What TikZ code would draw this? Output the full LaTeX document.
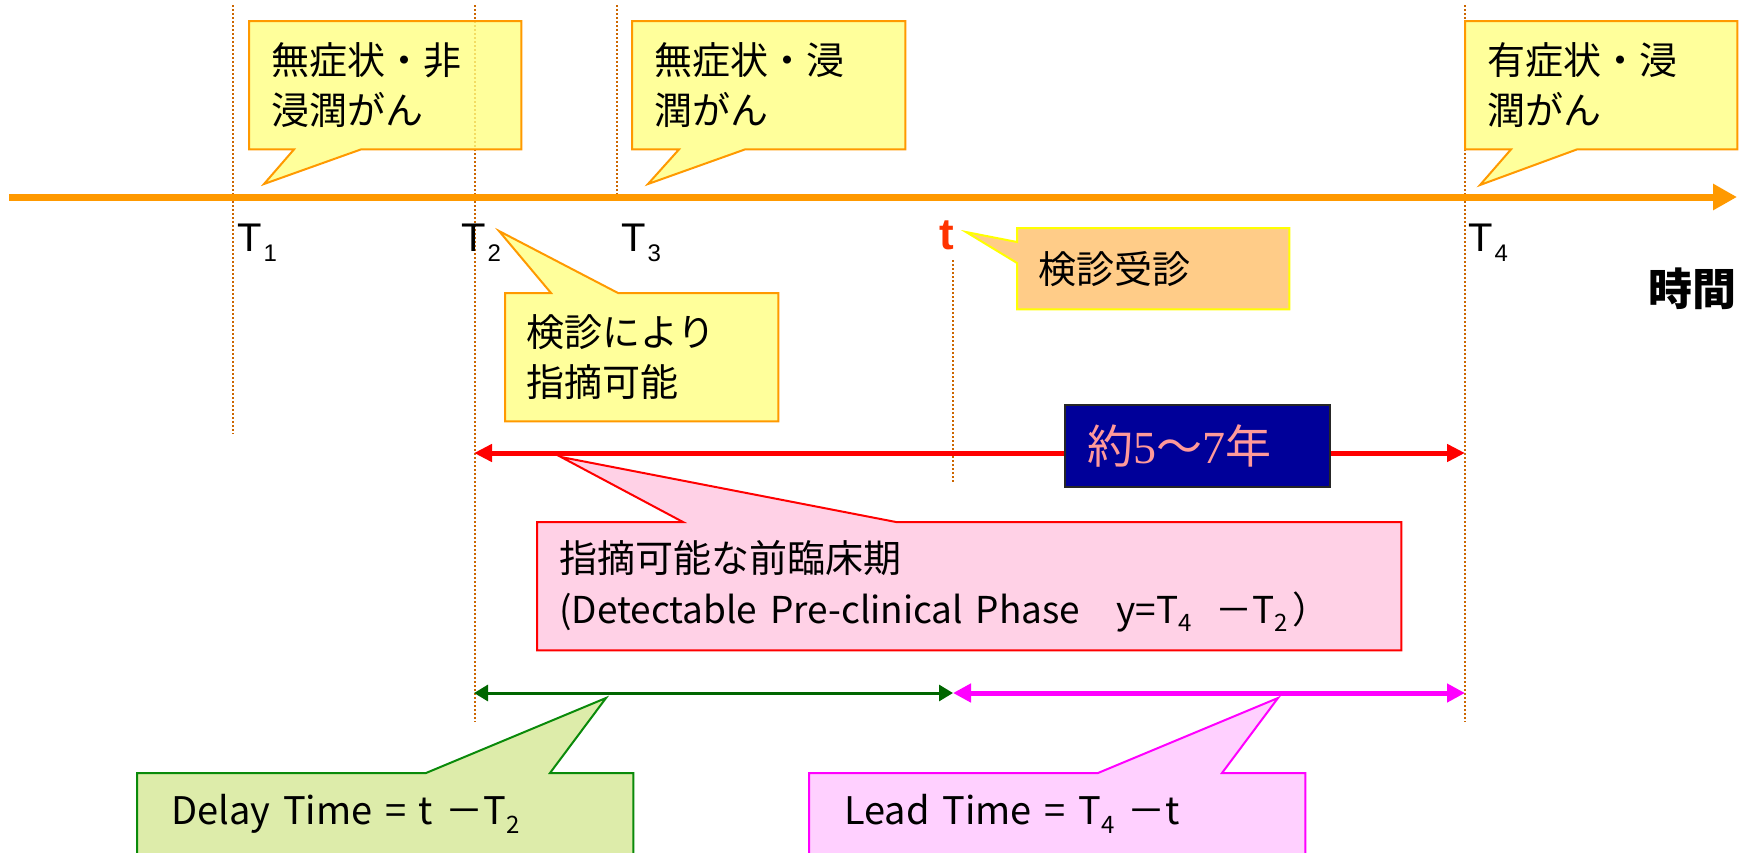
\documentclass[tikz,border=0pt]{standalone}
\usepackage{fontspec}
\setmainfont{Liberation Sans}
\newfontfamily\jp{Noto Sans CJK JP}
\newfontfamily\serifn{Liberation Serif}
\usetikzlibrary{arrows.meta,calc}
\definecolor{cyel}{HTML}{FFFF80}
\definecolor{corg}{HTML}{FF9900}
\definecolor{cdot}{HTML}{CC6600}
\definecolor{ckfill}{HTML}{FFCC88}
\definecolor{ckline}{HTML}{FFFF00}
\definecolor{cpink}{HTML}{FFD1E6}
\definecolor{cred}{HTML}{FF0000}
\definecolor{cnavy}{HTML}{000099}
\definecolor{csalmon}{HTML}{FF9999}
\definecolor{cgfill}{HTML}{DDECAA}
\definecolor{cgline}{HTML}{0A8A0A}
\definecolor{cgarrow}{HTML}{006600}
\definecolor{cmfill}{HTML}{FFD0FF}
\definecolor{cmag}{HTML}{FF00FF}
\definecolor{ct}{HTML}{FF3300}
\pgfdeclarelayer{bottom}
\pgfdeclarelayer{back}
\pgfsetlayers{bottom,back,main}
\tikzset{
  txtbox/.style={anchor=north west, inner xsep=22pt, inner ysep=0pt, align=left,
    font=\jp\fontsize{38}{50}\selectfont},
  yelshape/.style={draw=corg, line width=2pt, fill=cyel, fill opacity=0.78},
  dotline/.style={draw=cdot, line width=1.6pt, dash pattern=on 1.6pt off 2.4pt},
  tlabel/.style={anchor=base west, inner sep=0pt, font=\fontsize{40}{40}\selectfont},
  latinbox/.style={anchor=north west, inner ysep=0pt, align=left,
    font=\jp\fontsize{38}{46}\selectfont}
}
\newcommand{\sbs}[2][-10pt]{\raisebox{#1}{\fontsize{24}{24}\selectfont #2}}
\begin{document}
\begin{tikzpicture}[x=1pt,y=-1pt]
\useasboundingbox (0,0) rectangle (1753,852);
\begin{pgfonlayer}{bottom}
\fill[white] (0,0) rectangle (1753,852);
\end{pgfonlayer}

% vertical dotted markers
\coordinate (d1a) at (233,5);   \coordinate (d1b) at (233,434);
\coordinate (d2a) at (475,5);   \coordinate (d2b) at (475,722);
\coordinate (d3a) at (617,5);   \coordinate (d3b) at (617,197);
\coordinate (dta) at (953,260); \coordinate (dtb) at (953,483);
\coordinate (d4a) at (1465,5);  \coordinate (d4b) at (1465,722);
\begin{pgfonlayer}{bottom}
\draw[dotline] (d1a) -- (d1b);
\draw[dotline] (d2a) -- (d2b);
\draw[dotline] (d3a) -- (d3b);
\draw[dotline] (dta) -- (dtb);
\draw[dotline] (d4a) -- (d4b);
\end{pgfonlayer}

% time axis
\coordinate (ax0) at (9,197);
\coordinate (ax1) at (1737,197);
\draw[corg, line width=7pt, -{Triangle[length=24pt,width=25pt]}] (ax0) -- (ax1);

% pointer tips
\coordinate (p1) at (264,184);
\coordinate (p2) at (648,184);
\coordinate (p4) at (1480,185);
\coordinate (p3) at (499,231);
\coordinate (pk) at (966,232);
\coordinate (pp) at (561,457);
\coordinate (pg) at (606,698);
\coordinate (pm) at (1278,698);

% callout boxes (text)
\node[txtbox, text width=228pt, minimum height=128pt] (b1) at (249,21) {無症状・非\\浸潤がん};
\node[txtbox, text width=229pt, minimum height=128pt] (b2) at (632,21) {無症状・浸\\潤がん};
\node[txtbox, text width=228pt, minimum height=128pt] (b4) at (1465,21) {有症状・浸\\潤がん};
\node[txtbox, inner xsep=21pt, text width=231pt, minimum height=128pt] (b3) at (505,293) {検診により\\指摘可能};
\node[txtbox, inner xsep=21pt, text width=230pt, minimum height=81pt] (bk) at (1017,228) {検診受診};
\node[txtbox, text width=820pt, minimum height=128pt, font=\jp\fontsize{38}{51}\selectfont] (bp) at (537,522)
  {指摘可能な前臨床期\\{\fontsize{37}{51}\selectfont (Detectable Pre-clinical Phase\hspace{36pt}y=T\raisebox{-8pt}{\fontsize{24}{24}\selectfont 4}\hspace{24pt}－T\raisebox{-8pt}{\fontsize{24}{24}\selectfont 2}\hspace{4pt}）}};
\node[latinbox, inner xsep=34pt, text width=428pt, minimum height=82pt] (bg) at (137,773)
  {Delay Time = t\ －T\sbs[-9pt]{2}};
\node[latinbox, inner xsep=35pt, text width=426pt, minimum height=82pt] (bm) at (809,773)
  {Lead Time = T\sbs[-9pt]{4}\ －t};

% callout outlines
\begin{pgfonlayer}{back}
\path[yelshape] (b1.north west) -- (b1.north east) -- (b1.south east) -- ($(b1.south west)+(112,0)$) -- (p1) -- ($(b1.south west)+(45,0)$) -- (b1.south west) -- cycle;
\path[yelshape] (b2.north west) -- (b2.north east) -- (b2.south east) -- ($(b2.south west)+(113,0)$) -- (p2) -- ($(b2.south west)+(47,0)$) -- (b2.south west) -- cycle;
\path[yelshape] (b4.north west) -- (b4.north east) -- (b4.south east) -- ($(b4.south west)+(112,0)$) -- (p4) -- ($(b4.south west)+(46,0)$) -- (b4.south west) -- cycle;
\path[yelshape] (b3.south west) -- (b3.north west) -- ($(b3.north west)+(46,0)$) -- (p3) -- ($(b3.north west)+(113,0)$) -- (b3.north east) -- (b3.south east) -- cycle;
\path[draw=ckline, line width=2pt, fill=ckfill] (bk.north west) -- ($(bk.north west)+(0,14)$) -- (pk) -- ($(bk.north west)+(0,35)$) -- (bk.south west) -- (bk.south east) -- (bk.north east) -- cycle;
\path[draw=cred, line width=2pt, fill=cpink] (bp.south west) -- (bp.north west) -- ($(bp.north west)+(146,0)$) -- (pp) -- ($(bp.north west)+(359,0)$) -- (bp.north east) -- (bp.south east) -- cycle;
\path[draw=cgline, line width=2pt, fill=cgfill] (bg.south west) -- (bg.north west) -- ($(bg.north west)+(289,0)$) -- (pg) -- ($(bg.north west)+(413,0)$) -- (bg.north east) -- (bg.south east) -- cycle;
\path[draw=cmag, line width=2pt, fill=cmfill] (bm.south west) -- (bm.north west) -- ($(bm.north west)+(289,0)$) -- (pm) -- ($(bm.north west)+(413,0)$) -- (bm.north east) -- (bm.south east) -- cycle;
\end{pgfonlayer}

% time labels
\node[tlabel] (T1) at (237,251) {T\kern2pt\sbs{1}};
\node[tlabel] (T2) at (461,251) {T\kern2pt\sbs{2}};
\node[tlabel] (T3) at (621,251) {T\kern2pt\sbs{3}};
\node[tlabel] (T4) at (1468,251) {T\kern2pt\sbs{4}};
\node[tlabel, text=ct, font=\fontsize{44}{44}\selectfont\bfseries] (tt) at (939,249) {t};
\node[anchor=base east, inner sep=0pt, font=\jp\bfseries\fontsize{44}{44}\selectfont] (jikan) at (1737,305) {時間};

% red span arrow
\coordinate (ra) at (474,453);
\coordinate (rb) at (1465,453);
\draw[cred, line width=5pt, {Triangle[length=18pt,width=17pt]}-{Triangle[length=18pt,width=17pt]}] (ra) -- (rb);
\node[anchor=north west, draw=black!85, line width=2pt, fill=cnavy, minimum width=265pt, minimum height=82pt,
  inner xsep=22pt, inner ysep=0pt, text width=221pt, align=left, text=csalmon,
  font=\fontsize{46}{46}\selectfont] (yrs) at (1064,404)
  {{\jp 約}{\serifn 5}{\jp 〜}{\serifn 7}{\jp 年}};

% delay / lead arrows
\coordinate (ga) at (474,693);
\coordinate (gb) at (953,693);
\coordinate (ma) at (953,693);
\coordinate (mb) at (1465,693);
\draw[cgarrow, line width=3pt, {Triangle[length=14pt,width=16pt]}-{Triangle[length=14pt,width=16pt]}] (ga) -- (gb);
\draw[cmag, line width=5pt, {Triangle[length=18pt,width=18pt]}-{Triangle[length=18pt,width=18pt]}] (ma) -- (mb);
\end{tikzpicture}
\end{document}
